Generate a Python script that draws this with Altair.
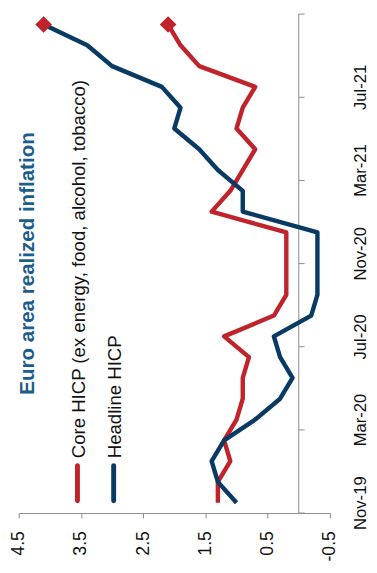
import altair as alt
import pandas as pd

# ---- data ----
months = ['Nov-19', 'Dec-19', 'Jan-20', 'Feb-20', 'Mar-20', 'Apr-20', 'May-20', 'Jun-20',
          'Jul-20', 'Aug-20', 'Sep-20', 'Oct-20', 'Nov-20', 'Dec-20', 'Jan-21', 'Feb-21',
          'Mar-21', 'Apr-21', 'May-21', 'Jun-21', 'Jul-21', 'Aug-21', 'Sep-21', 'Oct-21']
core = [1.3, 1.3, 1.1, 1.2, 1.0, 0.9, 0.9, 0.8, 1.2, 0.4, 0.2, 0.2,
        0.2, 0.2, 1.4, 1.1, 0.9, 0.7, 1.0, 0.9, 0.7, 1.6, 1.9, 2.1]
headline = [1.0, 1.3, 1.4, 1.2, 0.7, 0.3, 0.1, 0.3, 0.4, -0.2, -0.3, -0.3,
            -0.3, -0.3, 0.9, 0.9, 1.3, 1.6, 2.0, 1.9, 2.2, 3.0, 3.4, 4.1]
series_names = ['Core HICP (ex energy, food, alcohol, tobacco)', 'Headline HICP']
value_ticks = [4.5, 3.5, 2.5, 1.5, 0.5, -0.5]
date_label_every = 4
title_text = 'Euro area realized inflation'

RED = '#C1232B'
NAVY = '#083A64'
TITLE_COL = '#1B5E8C'
GRAY = '#8A8A8A'
FONT = 'Liberation Sans'

n = len(months)
rows = []
for i in range(n):
    rows.append({'idx': i, 'month': months[i], 'series': series_names[0], 'value': core[i]})
for i in range(n):
    rows.append({'idx': i, 'month': months[i], 'series': series_names[1], 'value': headline[i]})
df = pd.DataFrame(rows)
last = df[df['idx'] == n - 1]

label_idx = list(range(0, n, date_label_every))
boundaries = [i - 0.5 for i in range(0, n + 1, date_label_every)]
bdf = pd.DataFrame({'b': boundaries})

W, H = 318, 510
PAD_L = 11

xscale = alt.Scale(domain=[-0.5, 4.5], reverse=True, nice=False, zero=False)
yscale = alt.Scale(domain=[-0.5, n - 0.5], nice=False, zero=False)
cscale = alt.Scale(domain=series_names, range=[RED, NAVY])

month_js = '[' + ','.join("'%s'" % m for m in months) + ']'

xaxis = alt.Axis(values=value_ticks,
                 labelExpr="(datum.value < 0 ? '-' : '') + format(abs(datum.value), '.1f')",
                 labelAngle=270, labelFontSize=18, labelFont=FONT, labelColor='#111111',
                 labelPadding=13, tickSize=5, tickColor=GRAY, domainColor=GRAY, grid=False,
                 title=None, labelOverlap=False, labelBound=False, labelFlush=False)
yaxis = alt.Axis(orient='right', values=label_idx, labelExpr=month_js + '[datum.value]',
                 labelAngle=270, labelAlign='center', labelBaseline='top', labelPadding=23,
                 labelFontSize=17, labelFont=FONT, labelColor='#111111',
                 ticks=False, tickSize=0, domain=False, grid=False, title=None,
                 labelOverlap=False, labelBound=False, labelFlush=False)

base = alt.Chart(df)

lines = base.mark_line(strokeWidth=4.5, strokeJoin='round').encode(
    x=alt.X('value:Q', scale=xscale, axis=xaxis),
    y=alt.Y('idx:Q', scale=yscale, axis=yaxis),
    color=alt.Color('series:N', scale=cscale, legend=None),
    order=alt.Order('idx:Q'),
)

diamonds = alt.Chart(last).mark_point(shape='diamond', filled=True, size=290, opacity=1,
                                      color=RED).encode(
    x=alt.X('value:Q', scale=xscale),
    y=alt.Y('idx:Q', scale=yscale),
)

vline = alt.Chart(pd.DataFrame({'a': [0]})).mark_rule(color=GRAY, strokeWidth=1).encode(
    x=alt.datum(0, scale=xscale),
    y=alt.datum(-0.5, scale=yscale),
    y2=alt.datum(n - 0.5),
)

# x pixel of value 0 in the plot
x0 = W * (4.5 - 0) / 5.0
ticks = alt.Chart(bdf).mark_rule(color=GRAY, strokeWidth=1).encode(
    x=alt.value(x0),
    x2=alt.value(x0 + 6),
    y=alt.Y('b:Q', scale=yscale),
)

# page-pixel positions converted to plot coordinates
def px(page_x):
    return page_x - 8 - PAD_L

title = alt.Chart(pd.DataFrame({'t': [title_text]})).mark_text(
    angle=270, align='left', baseline='alphabetic', font=FONT, fontSize=21,
    fontWeight='bold', color=TITLE_COL).encode(
    x=alt.value(px(35)), y=alt.value(389), text='t:N')

leg_x_text = [px(86.5), px(123)]
leg_x_line = [px(79), px(116)]
leg_layers = []
for k, nm in enumerate(series_names):
    col = [RED, NAVY][k]
    d = pd.DataFrame({'name': [nm]})
    leg_layers.append(alt.Chart(d).mark_rule(color=col, strokeWidth=5, strokeCap='round').encode(
        x=alt.value(leg_x_line[k]), y=alt.value(461.5), y2=alt.value(497.5)))
    leg_layers.append(alt.Chart(d).mark_text(angle=270, align='left', baseline='alphabetic',
                                             font=FONT, fontSize=19, color='#111111').encode(
        x=alt.value(leg_x_text[k]), y=alt.value(454), text='name:N'))

chart = alt.layer(vline, ticks, lines, diamonds, title, *leg_layers).properties(
    width=W, height=H,
    autosize=alt.AutoSizeParams(type='none'),
    padding={'left': PAD_L, 'top': 0, 'right': 40, 'bottom': 55},
).configure_view(stroke=None)

chart.save('out.html', embed_options={'renderer': 'svg', 'actions': False})
